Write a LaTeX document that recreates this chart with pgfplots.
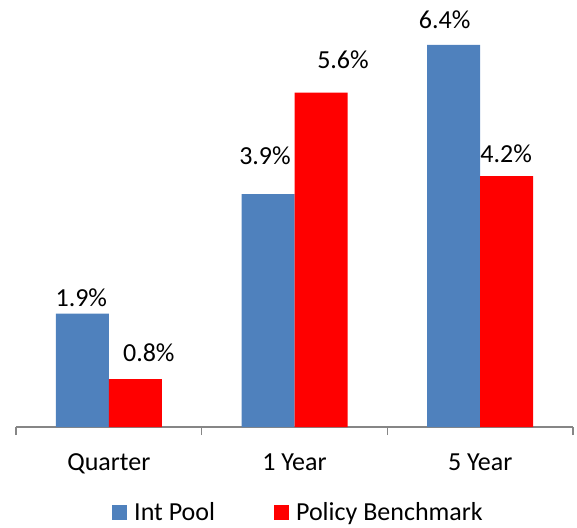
\documentclass[border=0pt]{standalone}
\usepackage{fontspec}
\setmainfont{Carlito}
\usepackage{pgfplots}
\pgfplotsset{compat=1.18}
\definecolor{bblue}{HTML}{4F81BD}
\definecolor{rred}{HTML}{FF0000}
\definecolor{axgray}{HTML}{868686}
\begin{document}
\begin{tikzpicture}
\begin{axis}[
  scale only axis,
  width=557pt, height=427pt,
  xmin=-0.5, xmax=2.5, ymin=0, ymax=7.15,
  axis x line*=bottom, axis y line=none,
  axis line style={axgray, line width=1.2pt},
  xtick={0,1,2},
  xticklabels={Quarter,1 Year,5 Year},
  major tick length=0pt,
  minor xtick={-0.5,0.5,1.5,2.5},
  minor tick length=8pt,
  tick align=outside,
  minor tick style={axgray, line width=1.2pt},
  xticklabel style={font=\fontsize{26}{30}\selectfont, anchor=base, yshift=-43pt, inner sep=0pt},
  ybar=0pt, bar width=53pt,
  clip=false,
  point meta=y,
  /pgf/number format/.cd, fixed, precision=1, fixed zerofill, assume math mode=true,
  /pgfplots/.cd,
  nodes near coords={\pgfmathprintnumber{\pgfplotspointmeta}\%},
  visualization depends on={value \thisrow{dx} \as \dx},
  visualization depends on={value \thisrow{dy} \as \dy},
  nodes near coords style={font=\fontsize{26}{30}\selectfont, anchor=base, inner sep=0pt, xshift=\dx pt, yshift=\dy pt, text=black},
  legend columns=2,
  legend style={draw=none, at={(0.1724,-0.2005)}, anchor=west, inner sep=0pt,
    font=\fontsize{26}{30}\selectfont,
    nodes={inner sep=0pt},
    /tikz/every odd column/.append style={column sep=7pt},
    /tikz/every even column/.append style={column sep=59pt}},
  legend image code/.code={\fill[#1] (0pt,-7.5pt) rectangle (15pt,7.5pt);},
]
\addplot[fill=bblue, draw=none] table {
x y dx dy
0 1.9 -1 7
1 3.9 -3 30
2 6.4 -9 16
};
\addlegendentry{Int Pool}
\addplot[fill=rred, draw=none] table {
x y dx dy
0 0.8 13.5 18
1 5.6 22 24
2 4.2 -0.5 14
};
\addlegendentry{Policy Benchmark}
\end{axis}
\pgfresetboundingbox
\path (-16pt,-100pt) rectangle (561pt,427pt);
\end{tikzpicture}
\end{document}
